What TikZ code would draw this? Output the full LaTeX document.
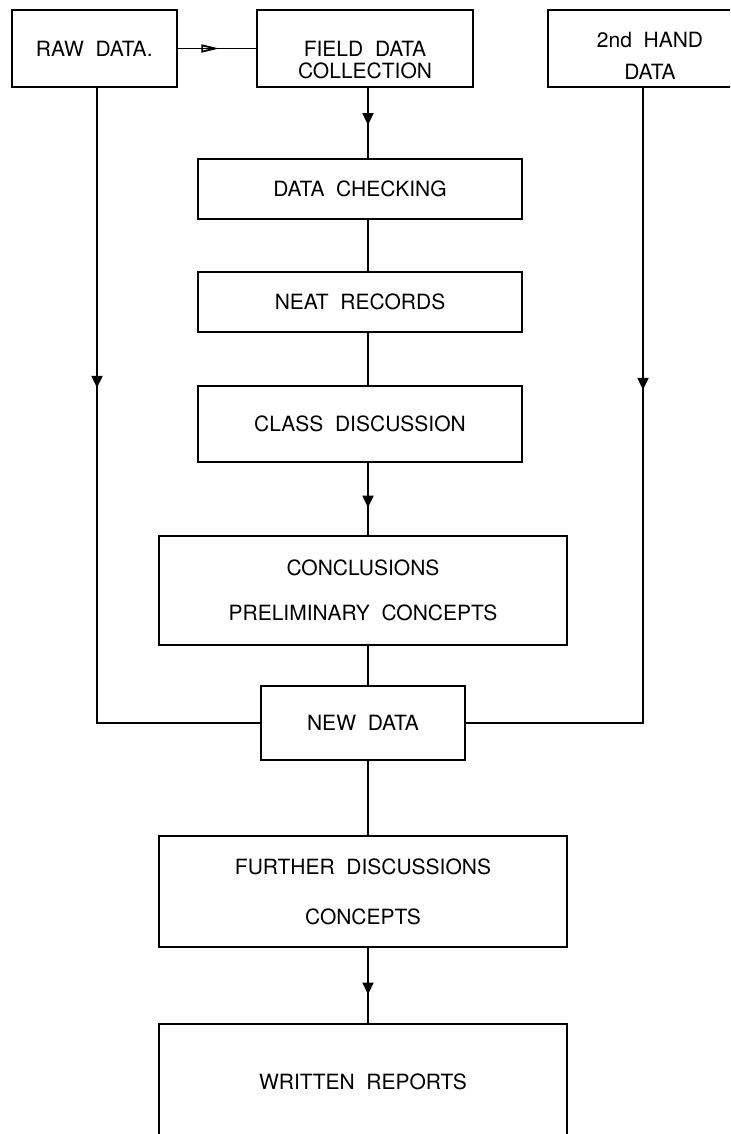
\documentclass[tikz,border=0pt]{standalone}
\usepackage{fontspec}
\setmainfont{TeX Gyre Heros}[WordSpace=2]
\usetikzlibrary{arrows.meta,decorations.markings}

\tikzset{
    stage/.style={draw, align=center, inner sep=0pt, font=\fontsize{10.5}{11}\selectfont},
    flowarrow/.style={postaction={decorate}, decoration={markings, mark=at position #1 with {\arrow{Triangle[length=6pt, width=5.5pt]}}}},
    sidearrow/.style={postaction={decorate}, decoration={markings, mark=at position #1 with {\arrow{Triangle[open, length=9pt, width=4pt]}}}}
}

\begin{document}
\begin{tikzpicture}[x=0.5pt, y=-0.5pt, line width=0.9pt]
            \useasboundingbox (0, 0) rectangle (730, 1134);
            \clip (0, 0) rectangle (730, 1134);
            \coordinate (leftcol) at (97, 0);
            \coordinate (spine) at (368, 0);
            \coordinate (rightcol) at (643, 0);
            \node[stage, minimum width=82.7pt, minimum height=38.5pt] (raw) at (94.3, 48.5) {RAW DATA.};
            \node[stage, minimum width=108pt, minimum height=38.5pt] (field) at (365, 48.5) {\rule{0pt}{19pt}FIELD DATA\\COLLECTION};
            \node[stage, minimum width=102pt, minimum height=38.5pt] (second) at (650, 48.5) {\rule{0pt}{15pt}2nd HAND\\[5pt]DATA};
            \node[stage, minimum width=162pt, minimum height=30pt] (check) at (360, 189) {DATA CHECKING};
            \node[stage, minimum width=162pt, minimum height=30pt] (neat) at (360, 302) {NEAT RECORDS};
            \node[stage, minimum width=162pt, minimum height=38pt] (class) at (360, 424) {CLASS DISCUSSION};
            \node[stage, minimum width=204pt, minimum height=54.5pt] (concl) at (363, 590.5) {CONCLUSIONS\\[11.5pt]PRELIMINARY CONCEPTS};
            \node[stage, minimum width=102pt, minimum height=37pt] (newdata) at (363, 723) {NEW DATA};
            \node[stage, minimum width=204pt, minimum height=55.5pt] (further) at (363, 891.5) {FURTHER DISCUSSIONS\\[14pt]CONCEPTS};
            \node[stage, minimum width=204pt, minimum height=58pt] (written) at (363, 1082) {WRITTEN REPORTS};
            \draw[sidearrow=0.53] (raw.east) -- (field.west);
            \draw[flowarrow=0.53] (field.south -| spine) -- (check.north -| spine);
            \draw (check.south -| spine) -- (neat.north -| spine);
            \draw (neat.south -| spine) -- (class.north -| spine);
            \draw[flowarrow=0.62] (class.south -| spine) -- (concl.north -| spine);
            \draw (concl.south -| spine) -- (newdata.north -| spine);
            \draw (newdata.south -| spine) -- (further.north -| spine);
            \draw[flowarrow=0.62] (further.south -| spine) -- (written.north -| spine);
            \draw[flowarrow=150pt] (raw.south -| leftcol) |- (newdata.west);
            \draw[flowarrow=151pt] (second.south -| rightcol) |- (newdata.east);
\end{tikzpicture}
\end{document}
